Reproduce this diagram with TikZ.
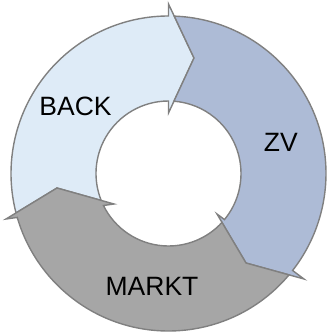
\documentclass[tikz,border=0pt]{standalone}
\usepackage{fontspec}
\setmainfont{Liberation Sans}
\definecolor{backfill}{RGB}{222,235,247}
\definecolor{zvfill}{RGB}{173,187,214}
\definecolor{marktfill}{RGB}{166,166,166}
\definecolor{edgegray}{RGB}{128,128,128}
\begin{document}
\begin{tikzpicture}[x=1pt,y=1pt,
  seg/.style={draw=edgegray, line width=1.4pt, line join=miter},
  lab/.style={font=\fontsize{26.5}{30}\selectfont, text=black, inner sep=0pt}]
\useasboundingbox (-168.5,-161.5) rectangle (159.5,173.5);
% BACK
\path[seg, fill=backfill] (194.5:157.5pt) arc[start angle=194.5, end angle=90, radius=157.5pt]
  -- (0,169.5) -- (25.5,115.5) -- (0,60.5) -- (90:72.5pt)
  arc[start angle=90, end angle=201.8, radius=72.5pt] -- (-111.5,-14.5) -- cycle;
% ZV
\path[seg, fill=zvfill] (87.9:157.5pt) arc[start angle=87.9, end angle=-38.0, radius=157.5pt]
  -- (135.5,-105.5) -- (77.5,-89.5) -- (48.5,-40.5) -- (-39.47:72.5pt)
  arc[start angle=-39.47, end angle=85.7, radius=72.5pt] -- (25.5,115.5) -- cycle;
% MARKT
\path[seg, fill=marktfill] (-40.07:157.5pt) arc[start angle=-40.07, end angle=-163.8, radius=157.5pt]
  -- (-162.5,-45.5) -- (-111.5,-14.5) -- (-54.5,-30.5) -- (-153.8:72.5pt)
  arc[start angle=-153.8, end angle=-42.45, radius=72.5pt] -- (77.5,-89.5) -- cycle;
\node[lab] (back) at (-93,66.8) {BACK};
\node[lab] (zv) at (112.3,31.5) {ZV};
\node[lab] (markt) at (-16.5,-112.5) {MARKT};
\end{tikzpicture}
\end{document}
